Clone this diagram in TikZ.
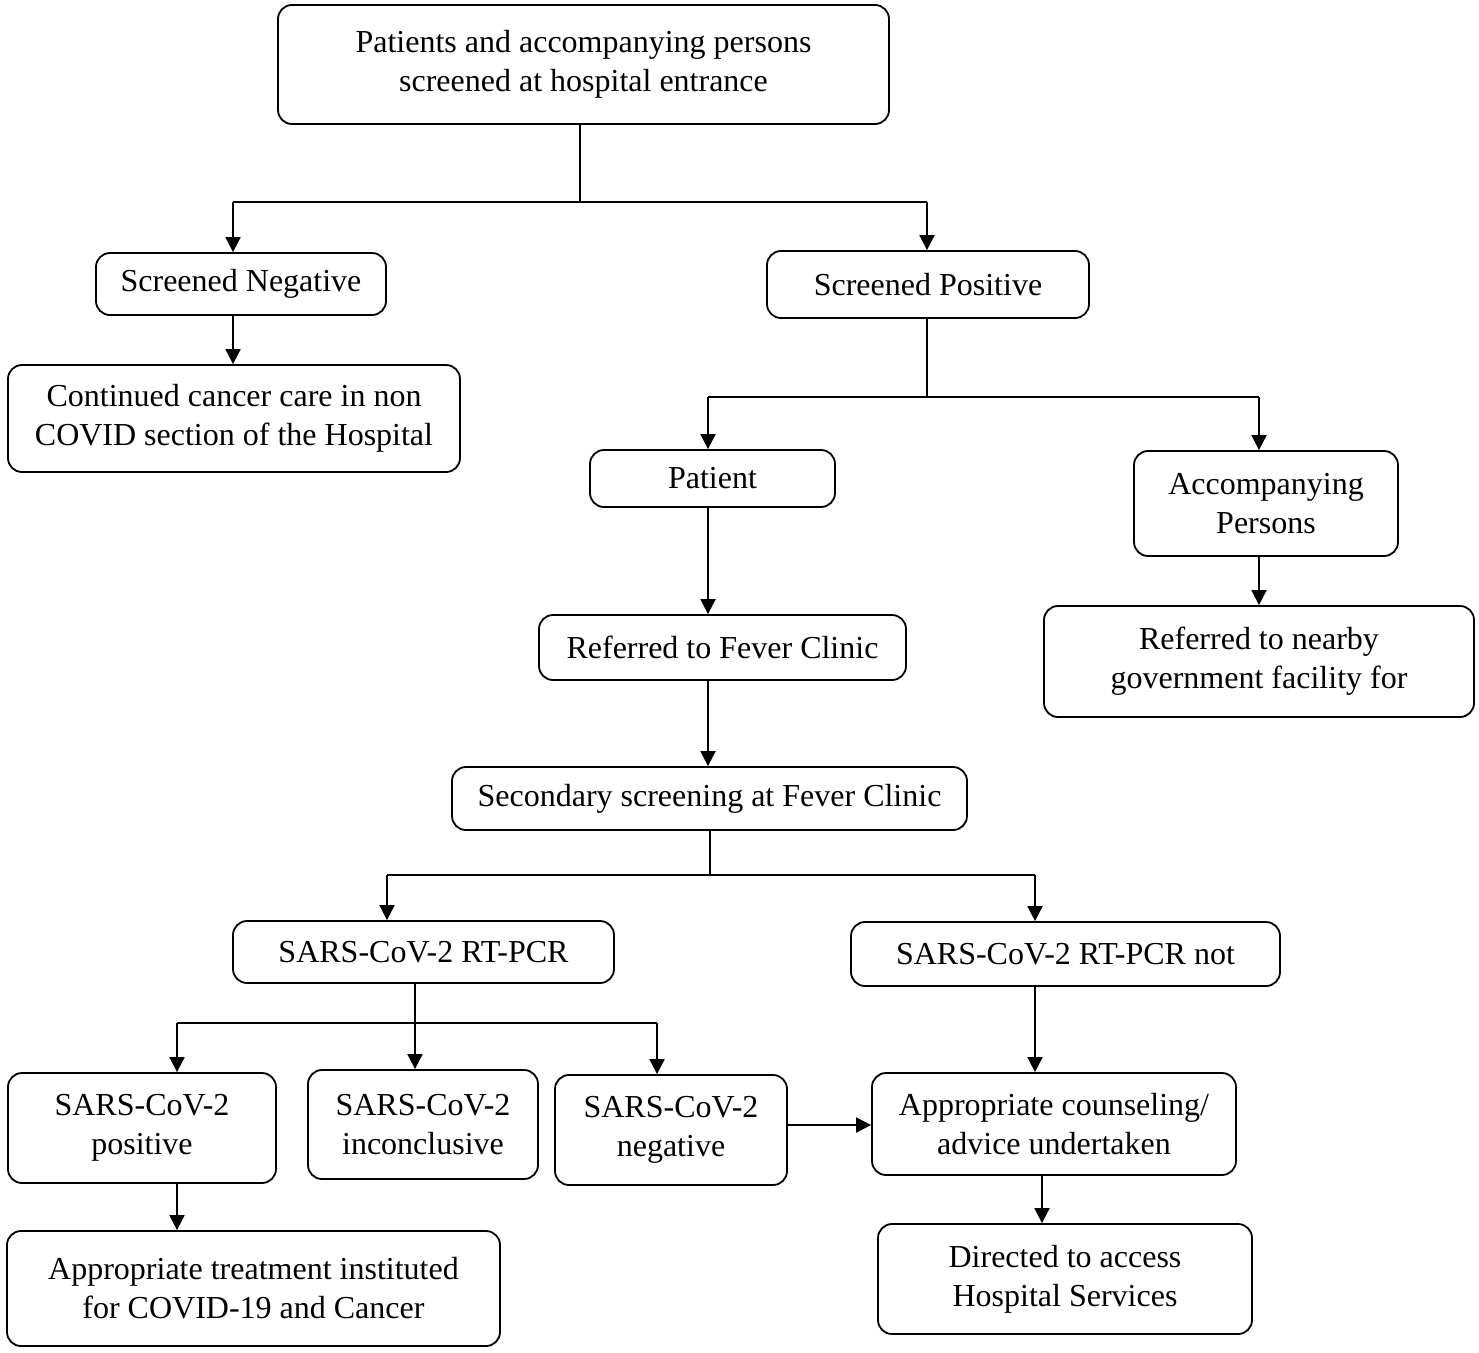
\documentclass[tikz,border=0pt]{standalone}
\usepackage{fontspec}
\setmainfont{Liberation Serif}
\usetikzlibrary{arrows.meta}
\begin{document}
\begin{tikzpicture}[x=1pt,y=-1pt,
  box/.style={draw, line width=1.8pt, rounded corners=14pt, inner sep=0pt, align=center,
    font=\fontsize{32}{39}\selectfont},
  ln/.style={line width=1.8pt},
  arr/.style={line width=1.8pt, -{Triangle[length=15pt,width=15pt]}},
]
\useasboundingbox (0,0) rectangle (1479,1352);
% boxes
\node[box, minimum width=611pt, minimum height=119pt] (top) at (583.5,64.5)
  {Patients and accompanying persons\\screened at hospital entrance};
\node[box, minimum width=290pt, minimum height=62pt] (neg) at (241,284) {Screened Negative};
\node[box, minimum width=322pt, minimum height=67pt] (pos) at (928,284.5) {Screened Positive};
\node[box, minimum width=452pt, minimum height=107pt] (cont) at (234,418.5)
  {Continued cancer care in non\\COVID section of the Hospital};
\node[box, minimum width=245pt, minimum height=57pt] (pat) at (712.5,478.5) {Patient};
\node[box, minimum width=264pt, minimum height=105pt] (acc) at (1266,503.5) {Accompanying\\Persons};
\node[box, minimum width=367pt, minimum height=65pt] (ref) at (722.5,647.5) {Referred to Fever Clinic};
\node[box, minimum width=430pt, minimum height=111pt] (gov) at (1259,661.5)
  {Referred to nearby\\government facility for};
\node[box, minimum width=515pt, minimum height=63pt] (sec) at (709.5,798.5) {Secondary screening at Fever Clinic};
\node[box, minimum width=381pt, minimum height=62pt] (pcr) at (423.5,952) {SARS-CoV-2 RT-PCR};
\node[box, minimum width=429pt, minimum height=64pt] (pcrnot) at (1065.5,954) {SARS-CoV-2 RT-PCR not};
\node[box, minimum width=268pt, minimum height=110pt] (spos) at (142,1128) {SARS-CoV-2\\positive};
\node[box, minimum width=230pt, minimum height=109pt] (sinc) at (423,1124.5) {SARS-CoV-2\\inconclusive};
\node[box, minimum width=232pt, minimum height=110pt] (sneg) at (671,1130) {SARS-CoV-2\\negative};
\node[box, minimum width=364pt, minimum height=102pt] (couns) at (1054,1124)
  {Appropriate counseling/\\advice undertaken};
\node[box, minimum width=374pt, minimum height=110pt] (dir) at (1065,1279)
  {Directed to access\\Hospital Services};
\node[box, minimum width=493pt, minimum height=115pt] (treat) at (253.5,1288.5)
  {Appropriate treatment instituted\\for COVID-19 and Cancer};
% junction coordinates
\coordinate (j1) at (580,202);
\coordinate (a1) at (233,202);
\coordinate (a2) at (927,202);
\coordinate (j2) at (927,397);
\coordinate (b1) at (708,397);
\coordinate (b2) at (1259,397);
\coordinate (j3) at (710,875);
\coordinate (c1) at (387,875);
\coordinate (c2) at (1035,875);
\coordinate (j4) at (415,1023);
\coordinate (d1) at (177,1023);
\coordinate (d3) at (657,1023);
\coordinate (e1) at (1042,1175);
% connectors
\draw[ln] (top.south -| j1) -- (j1);
\draw[ln] (a1) -- (a2);
\draw[arr] (a1) -- (a1 |- neg.north);
\draw[arr] (a2) -- (a2 |- pos.north);
\draw[arr] (neg.south -| a1) -- (a1 |- cont.north);
\draw[ln] (pos.south -| j2) -- (j2);
\draw[ln] (b1) -- (b2);
\draw[arr] (b1) -- (b1 |- pat.north);
\draw[arr] (b2) -- (b2 |- acc.north);
\draw[arr] (pat.south -| b1) -- (b1 |- ref.north);
\draw[arr] (acc.south -| b2) -- (b2 |- gov.north);
\draw[arr] (ref.south -| b1) -- (b1 |- sec.north);
\draw[ln] (sec.south -| j3) -- (j3);
\draw[ln] (c1) -- (c2);
\draw[arr] (c1) -- (c1 |- pcr.north);
\draw[arr] (c2) -- (c2 |- pcrnot.north);
\draw[ln] (pcr.south -| j4) -- (j4);
\draw[ln] (d1) -- (d3);
\draw[arr] (d1) -- (d1 |- spos.north);
\draw[arr] (j4) -- (j4 |- sinc.north);
\draw[arr] (d3) -- (d3 |- sneg.north);
\draw[arr] (sneg.east |- 0,1125) -- (couns.west |- 0,1125);
\draw[arr] (pcrnot.south -| c2) -- (c2 |- couns.north);
\draw[arr] (couns.south -| e1) -- (e1 |- dir.north);
\draw[arr] (spos.south -| d1) -- (d1 |- treat.north);
\end{tikzpicture}
\end{document}
